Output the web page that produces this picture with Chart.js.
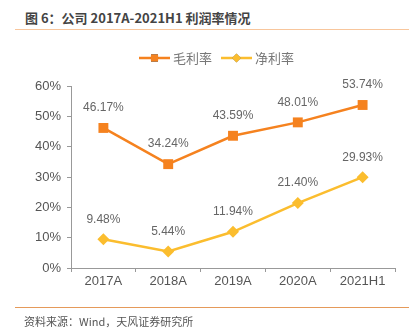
<!DOCTYPE html>
<html>
<head>
<meta charset="utf-8">
<script src="https://cdn.jsdelivr.net/npm/chart.js@4"></script>
<style>
  html, body { margin: 0; padding: 0; background: #fff; }
  #wrap { position: relative; width: 419px; height: 335px; overflow: hidden; }
  #chart { position: absolute; left: 0; top: 0; }
  .title { position: absolute; left: 25px; top: 8px; font: bold 13px "Noto Sans CJK SC", sans-serif; color: #444; }
  .rule-top { position: absolute; left: 15px; width: 394px; top: 29px; height: 1px; background: #f8c69c; }
  .rule-bottom { position: absolute; left: 15px; width: 394px; top: 307px; height: 1px; background: #e59a5a; }
  .source { position: absolute; left: 24px; top: 313px; font: 11px "Noto Sans CJK SC", sans-serif; color: #555; }
</style>
</head>
<body>
<div id="wrap">
  <div class="title">图 6：公司 2017A-2021H1 利润率情况</div>
  <div class="rule-top"></div>
  <canvas id="chart" width="419" height="335"></canvas>
  <div class="rule-bottom"></div>
  <div class="source">资料来源：Wind，天风证券研究所</div>
</div>
<script>
const categories = ['2017A', '2018A', '2019A', '2020A', '2021H1'];
const grossMargin = [46.17, 34.24, 43.59, 48.01, 53.74];
const netMargin = [9.48, 5.44, 11.94, 21.40, 29.93];
const yTicks = [0, 10, 20, 30, 40, 50, 60];

const orange = '#f5821f';
const yellow = '#fbbd2e';
const labelFont = '12px "Liberation Sans", Arial, sans-serif';

// value labels above each point
const valueLabels = {
    id: 'valueLabels',
    afterDatasetsDraw(chart) {
        const ctx = chart.ctx;
        ctx.save();
        ctx.font = labelFont;
        ctx.fillStyle = '#666';
        ctx.textAlign = 'center';
        ctx.textBaseline = 'middle';
        chart.data.datasets.forEach((ds, i) => {
            chart.getDatasetMeta(i).data.forEach((pt, j) => {
                ctx.fillText(ds.data[j].toFixed(2) + '%', pt.x, pt.y - 20);
            });
        });
        ctx.restore();
    }
};

// legend: short line with the marker in the middle, then the name
const lineLegend = {
    id: 'lineLegend',
    afterDraw(chart) {
        const ctx = chart.ctx;
        const items = [
            { x: 139, color: orange, style: 'rect', label: '毛利率' },
            { x: 221, color: yellow, style: 'rectRot', label: '净利率' }
        ];
        const y = 58;
        ctx.save();
        items.forEach(it => {
            ctx.strokeStyle = it.color;
            ctx.lineWidth = 2.5;
            ctx.beginPath();
            ctx.moveTo(it.x, y);
            ctx.lineTo(it.x + 31, y);
            ctx.stroke();
            Chart.helpers.drawPoint(ctx, {
                pointStyle: it.style, radius: it.style === 'rect' ? 5 : 4.5,
                borderWidth: 0, backgroundColor: it.color
            }, it.x + 15.5, y);
            ctx.fillStyle = it.color;
            ctx.fill();
            ctx.fillStyle = '#777';
            ctx.font = '13px "Noto Sans CJK SC", sans-serif';
            ctx.textBaseline = 'middle';
            ctx.fillText(it.label, it.x + 34, y);
        });
        ctx.restore();
    }
};

new Chart(document.getElementById('chart').getContext('2d'), {
    type: 'line',
    data: {
        labels: categories,
        datasets: [{
            label: '毛利率',
            data: grossMargin,
            borderColor: orange,
            backgroundColor: orange,
            borderWidth: 2.5,
            pointStyle: 'rect',
            pointRadius: 7,
            pointBorderWidth: 0,
            tension: 0
        }, {
            label: '净利率',
            data: netMargin,
            borderColor: yellow,
            backgroundColor: yellow,
            borderWidth: 2.5,
            pointStyle: 'rectRot',
            pointRadius: 6,
            pointBorderWidth: 0,
            tension: 0
        }]
    },
    options: {
        responsive: false,
        animation: false,
        layout: { padding: { top: 86, right: 24, bottom: 37, left: 0 } },
        plugins: { legend: { display: false }, tooltip: { enabled: false } },
        scales: {
            x: {
                offset: true,
                grid: { offset: true, drawOnChartArea: false, drawTicks: true, tickLength: 4, color: '#999' },
                border: { color: '#999', width: 1 },
                ticks: { color: '#555', font: { size: 13, family: '"Liberation Sans", Arial, sans-serif' }, padding: 2 },
                afterFit(scale) { scale.height = 30; }
            },
            y: {
                min: 0,
                max: 60,
                afterBuildTicks(scale) { scale.ticks = yTicks.map(v => ({ value: v })); },
                grid: { drawOnChartArea: false, drawTicks: true, tickLength: 4, color: '#999' },
                border: { color: '#999', width: 1 },
                ticks: {
                    color: '#555',
                    font: { size: 13, family: '"Liberation Sans", Arial, sans-serif' },
                    padding: 6,
                    callback: v => v + '%'
                },
                afterFit(scale) { scale.width = 71; }
            }
        }
    },
    plugins: [valueLabels, lineLegend]
});
</script>
</body>
</html>
